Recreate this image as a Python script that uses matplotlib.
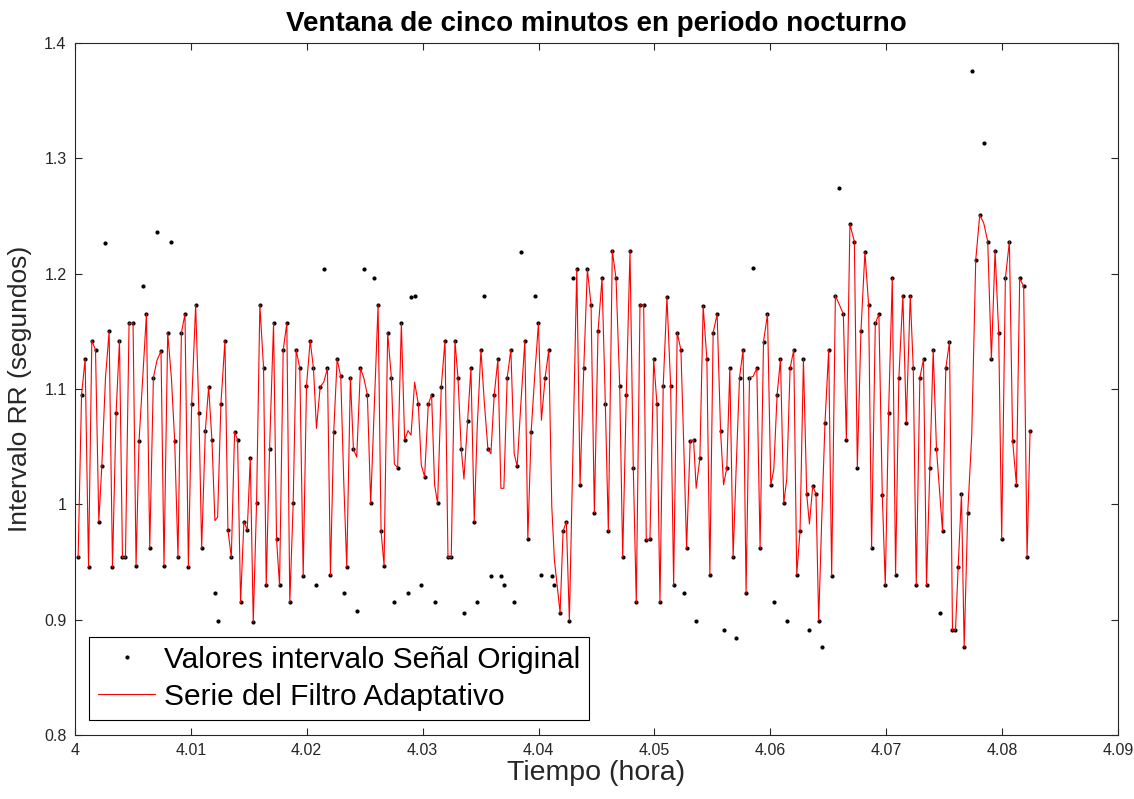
import numpy as np
import matplotlib
matplotlib.use("Agg")
import matplotlib.pyplot as plt

plt.rcParams['font.family'] = ['Liberation Sans', 'DejaVu Sans']

# seconds after 4:00 h
seconds = [
    1.02, 2.08, 3.19, 4.25, 5.27, 6.42, 7.44, 8.37, 9.52, 10.64,
    11.69, 12.81, 13.86, 14.79, 15.72, 16.84, 18.08, 19.01, 19.94, 21.09,
    22.23, 23.26, 24.40, 25.52, 26.76, 27.69, 28.84, 29.98, 31.01, 32.03,
    33.09, 34.20, 35.26, 36.28, 37.52, 38.54, 39.38, 40.53, 41.55, 42.57,
    43.50, 44.34, 45.36, 46.61, 47.54, 48.59, 49.61, 50.54, 51.47, 52.50,
    53.55, 54.48, 55.41, 56.43, 57.46, 58.61, 59.44, 60.47, 61.71, 62.64,
    63.57, 64.71, 65.83, 66.76, 67.81, 68.74, 69.86, 70.92, 71.94, 73.09,
    74.11, 75.04, 76.19, 77.30, 78.45, 79.38, 80.40, 81.46, 82.58, 83.51,
    84.44, 85.58, 86.51, 87.54, 88.69, 89.71, 90.85, 91.88, 93.02, 94.17,
    95.10, 96.03, 97.15, 98.30, 99.23, 100.25, 101.40, 102.42, 103.48, 104.41,
    105.52, 106.67, 107.60, 108.62, 109.77, 110.79, 111.72, 112.65, 113.80, 114.95,
    115.88, 116.90, 118.05, 118.98, 120.00, 120.84, 121.96, 123.01, 124.04, 124.96,
    126.11, 127.13, 128.28, 129.21, 130.24, 131.38, 132.31, 133.24, 134.27, 135.41,
    136.44, 137.37, 138.51, 139.75, 140.68, 141.71, 142.85, 143.97, 144.90, 146.05,
    147.19, 148.12, 148.93, 150.70, 151.63, 152.65, 153.58, 154.73, 155.88, 156.90,
    158.05, 159.17, 160.31, 161.34, 162.48, 163.72, 164.75, 165.68, 166.92, 168.07,
    169.21, 170.14, 171.26, 172.41, 173.43, 174.36, 175.51, 176.65, 177.46, 178.61,
    179.76, 180.78, 181.71, 182.73, 183.88, 185.03, 185.96, 187.07, 188.22, 189.15,
    189.98, 191.10, 192.15, 192.96, 194.11, 195.13, 196.28, 197.21, 198.23, 199.47,
    200.53, 201.46, 202.48, 203.41, 204.43, 205.36, 206.42, 207.53, 208.46, 209.52,
    210.64, 211.79, 212.81, 213.87, 215.11, 216.13, 217.06, 218.09, 219.14, 220.16,
    221.09, 222.12, 223.26, 224.19, 225.22, 226.27, 227.29, 228.13, 229.15, 230.17,
    231.01, 231.94, 232.97, 234.11, 235.04, 236.19, 237.31, 238.67, 239.60, 240.71,
    242.08, 243.01, 244.13, 245.37, 246.51, 247.44, 248.59, 249.70, 250.76, 251.69,
    252.71, 253.86, 254.89, 255.91, 257.15, 258.21, 259.45, 260.38, 261.31, 262.43,
    263.56, 264.49, 265.52, 266.57, 267.59, 268.53, 269.46, 270.48, 271.63, 272.56,
    273.49, 274.33, 275.35, 276.19, 277.30, 278.54, 279.78, 281.02, 282.26, 283.50,
    284.64, 285.79, 286.91, 287.84, 288.99, 290.23, 291.25, 292.41, 293.43, 294.67,
    295.72, 296.65,
]

rr_original = [
    0.954, 1.095, 1.126, 0.946, 1.142, 1.134, 0.985, 1.033, 1.227, 1.150,
    0.946, 1.079, 1.142, 0.954, 0.954, 1.157, 1.157, 0.947, 1.055, 1.189,
    1.165, 0.962, 1.110, 1.236, 1.133, 0.947, 1.149, 1.228, 1.055, 0.954,
    1.149, 1.165, 0.946, 1.087, 1.173, 1.079, 0.962, 1.064, 1.102, 1.056,
    0.923, 0.899, 1.087, 1.142, 0.978, 0.954, 1.063, 1.056, 0.915, 0.985,
    0.978, 1.040, 0.898, 1.001, 1.173, 1.118, 0.930, 1.048, 1.157, 0.970,
    0.930, 1.134, 1.157, 0.915, 1.001, 1.134, 1.118, 0.938, 1.103, 1.142,
    1.118, 0.930, 1.102, 1.204, 1.118, 0.939, 1.063, 1.126, 1.111, 0.923,
    0.946, 1.110, 1.048, 0.908, 1.118, 1.204, 1.095, 1.001, 1.196, 1.173,
    0.977, 0.947, 1.149, 1.110, 0.915, 1.032, 1.157, 1.056, 0.923, 1.180,
    1.181, 1.087, 0.930, 1.024, 1.087, 1.095, 0.915, 1.001, 1.102, 1.142,
    0.954, 0.954, 1.142, 1.110, 1.048, 0.906, 1.072, 1.118, 0.985, 0.915,
    1.134, 1.181, 1.048, 0.938, 1.095, 1.126, 0.938, 0.930, 1.110, 1.134,
    0.915, 1.033, 1.219, 1.142, 0.970, 1.063, 1.181, 1.157, 0.939, 1.110,
    1.134, 0.938, 0.930, 0.906, 0.977, 0.985, 0.899, 1.196, 1.204, 1.017,
    1.118, 1.204, 1.173, 0.993, 1.150, 1.196, 1.087, 0.977, 1.220, 1.196,
    1.103, 0.954, 1.095, 1.220, 1.032, 0.915, 1.173, 1.173, 0.969, 0.970,
    1.126, 1.087, 0.915, 1.103, 1.180, 1.103, 0.930, 1.149, 1.134, 0.923,
    0.962, 1.055, 1.056, 0.899, 1.040, 1.172, 1.126, 0.939, 1.149, 1.165,
    1.064, 0.891, 1.032, 1.118, 0.954, 0.884, 1.110, 1.134, 0.923, 1.110,
    1.205, 1.118, 0.962, 1.141, 1.165, 1.017, 0.915, 1.095, 1.126, 1.001,
    0.899, 1.118, 1.134, 0.939, 0.977, 1.126, 1.009, 0.891, 1.016, 1.009,
    0.899, 0.876, 1.071, 1.134, 0.938, 1.181, 1.274, 1.165, 1.056, 1.243,
    1.228, 1.032, 1.150, 1.219, 1.173, 0.962, 1.157, 1.165, 1.008, 0.930,
    1.079, 1.196, 0.939, 1.110, 1.181, 1.071, 1.181, 1.118, 0.930, 1.110,
    1.126, 0.930, 1.032, 1.134, 1.048, 0.906, 0.977, 1.118, 1.141, 0.891,
    0.891, 0.946, 1.009, 0.876, 0.993, 1.376, 1.212, 1.251, 1.313, 1.228,
    1.126, 1.220, 1.149, 0.970, 1.196, 1.228, 1.055, 1.017, 1.196, 1.189,
    0.954, 1.064,
]

rr_filtered = [
    0.954, 1.095, 1.126, 0.946, 1.142, 1.134, 0.985, 1.033, 1.110, 1.150,
    0.946, 1.079, 1.142, 0.954, 0.954, 1.157, 1.157, 0.947, 1.055, 1.110,
    1.165, 0.962, 1.110, 1.125, 1.133, 0.947, 1.149, 1.110, 1.055, 0.954,
    1.149, 1.165, 0.946, 1.087, 1.173, 1.079, 0.962, 1.064, 1.102, 1.056,
    0.986, 0.989, 1.087, 1.142, 0.978, 0.954, 1.063, 1.056, 0.915, 0.985,
    0.978, 1.040, 0.898, 1.001, 1.173, 1.118, 0.930, 1.048, 1.157, 0.970,
    0.930, 1.134, 1.157, 0.915, 1.001, 1.134, 1.118, 0.938, 1.103, 1.142,
    1.118, 1.066, 1.102, 1.106, 1.118, 0.939, 1.063, 1.126, 1.111, 1.020,
    0.946, 1.110, 1.048, 1.041, 1.118, 1.110, 1.095, 1.001, 1.087, 1.173,
    0.977, 0.947, 1.149, 1.110, 1.035, 1.032, 1.157, 1.056, 1.064, 1.060,
    1.106, 1.087, 1.034, 1.024, 1.087, 1.095, 1.017, 1.001, 1.102, 1.142,
    0.954, 0.954, 1.142, 1.110, 1.048, 1.022, 1.072, 1.118, 0.985, 1.067,
    1.134, 1.090, 1.048, 1.044, 1.095, 1.126, 1.014, 1.014, 1.110, 1.134,
    1.044, 1.033, 1.087, 1.142, 0.970, 1.063, 1.113, 1.157, 1.073, 1.110,
    1.134, 0.998, 0.952, 0.906, 0.977, 0.985, 0.899, 1.053, 1.204, 1.017,
    1.118, 1.204, 1.173, 0.993, 1.150, 1.196, 1.087, 0.977, 1.220, 1.196,
    1.103, 0.954, 1.095, 1.220, 1.032, 0.915, 1.173, 1.173, 0.969, 0.970,
    1.126, 1.087, 0.915, 1.103, 1.180, 1.103, 0.930, 1.149, 1.134, 1.047,
    0.962, 1.055, 1.056, 1.014, 1.040, 1.172, 1.126, 0.939, 1.149, 1.165,
    1.064, 1.017, 1.032, 1.118, 0.954, 1.030, 1.110, 1.134, 0.923, 1.110,
    1.111, 1.118, 0.962, 1.141, 1.165, 1.017, 1.030, 1.095, 1.126, 1.001,
    1.022, 1.118, 1.134, 0.939, 0.977, 1.126, 1.009, 0.983, 1.016, 1.009,
    0.899, 0.986, 1.071, 1.134, 0.938, 1.181, 1.174, 1.165, 1.056, 1.243,
    1.228, 1.032, 1.150, 1.219, 1.173, 0.962, 1.157, 1.165, 1.008, 0.930,
    1.079, 1.196, 0.939, 1.110, 1.181, 1.071, 1.181, 1.118, 0.930, 1.110,
    1.126, 0.930, 1.032, 1.134, 1.048, 1.012, 0.977, 1.118, 1.141, 0.891,
    0.891, 0.946, 1.009, 0.876, 0.993, 1.060, 1.212, 1.251, 1.244, 1.228,
    1.126, 1.220, 1.149, 0.970, 1.196, 1.228, 1.055, 1.017, 1.196, 1.189,
    0.954, 1.064,
]

x_ticks = [4, 4.01, 4.02, 4.03, 4.04, 4.05, 4.06, 4.07, 4.08, 4.09]
x_ticklabels = ['4', '4.01', '4.02', '4.03', '4.04', '4.05', '4.06', '4.07', '4.08', '4.09']
y_ticks = [0.8, 0.9, 1.0, 1.1, 1.2, 1.3, 1.4]
y_ticklabels = ['0.8', '0.9', '1', '1.1', '1.2', '1.3', '1.4']

hours = 4 + np.array(seconds) / 3600.0

fig = plt.figure(figsize=(11.34, 7.99), dpi=100)
ax = fig.add_axes([0.066, 0.080, 0.920, 0.866])

ax.plot(hours, rr_original, '.', color='black', markersize=4,
        label='Valores intervalo Señal Original')
ax.plot(hours, rr_filtered, '-', color='red', linewidth=0.8,
        label='Serie del Filtro Adaptativo')

ax.set_xlim(4, 4.09)
ax.set_ylim(0.8, 1.4)
ax.set_xticks(x_ticks)
ax.set_xticklabels(x_ticklabels)
ax.set_yticks(y_ticks)
ax.set_yticklabels(y_ticklabels)

axis_grey = '#262626'
for side in ax.spines.values():
    side.set_color(axis_grey)
    side.set_linewidth(0.8)
ax.tick_params(direction='in', length=5, width=0.8, colors=axis_grey,
               labelsize=11.5, top=True, right=True, pad=6)
ax.tick_params(axis='x', labeltop=False)
ax.tick_params(axis='y', labelright=False)

ax.set_title('Ventana de cinco minutos en periodo nocturno',
             fontsize=20, fontweight='bold', pad=9)
ax.set_xlabel('Tiempo (hora)', fontsize=20.5, color=axis_grey, labelpad=1)
ax.set_ylabel('Intervalo RR (segundos)', fontsize=19, color=axis_grey, labelpad=9)

leg = ax.legend(loc='lower left', bbox_to_anchor=(0.014, 0.022), fontsize=21.5,
                fancybox=False, framealpha=1, edgecolor='black',
                handlelength=1.9, borderpad=0.3, labelspacing=0.3,
                handletextpad=0.3, borderaxespad=0, markerscale=1.0)
leg.get_frame().set_linewidth(0.8)

fig.savefig('out.png', dpi=100)
